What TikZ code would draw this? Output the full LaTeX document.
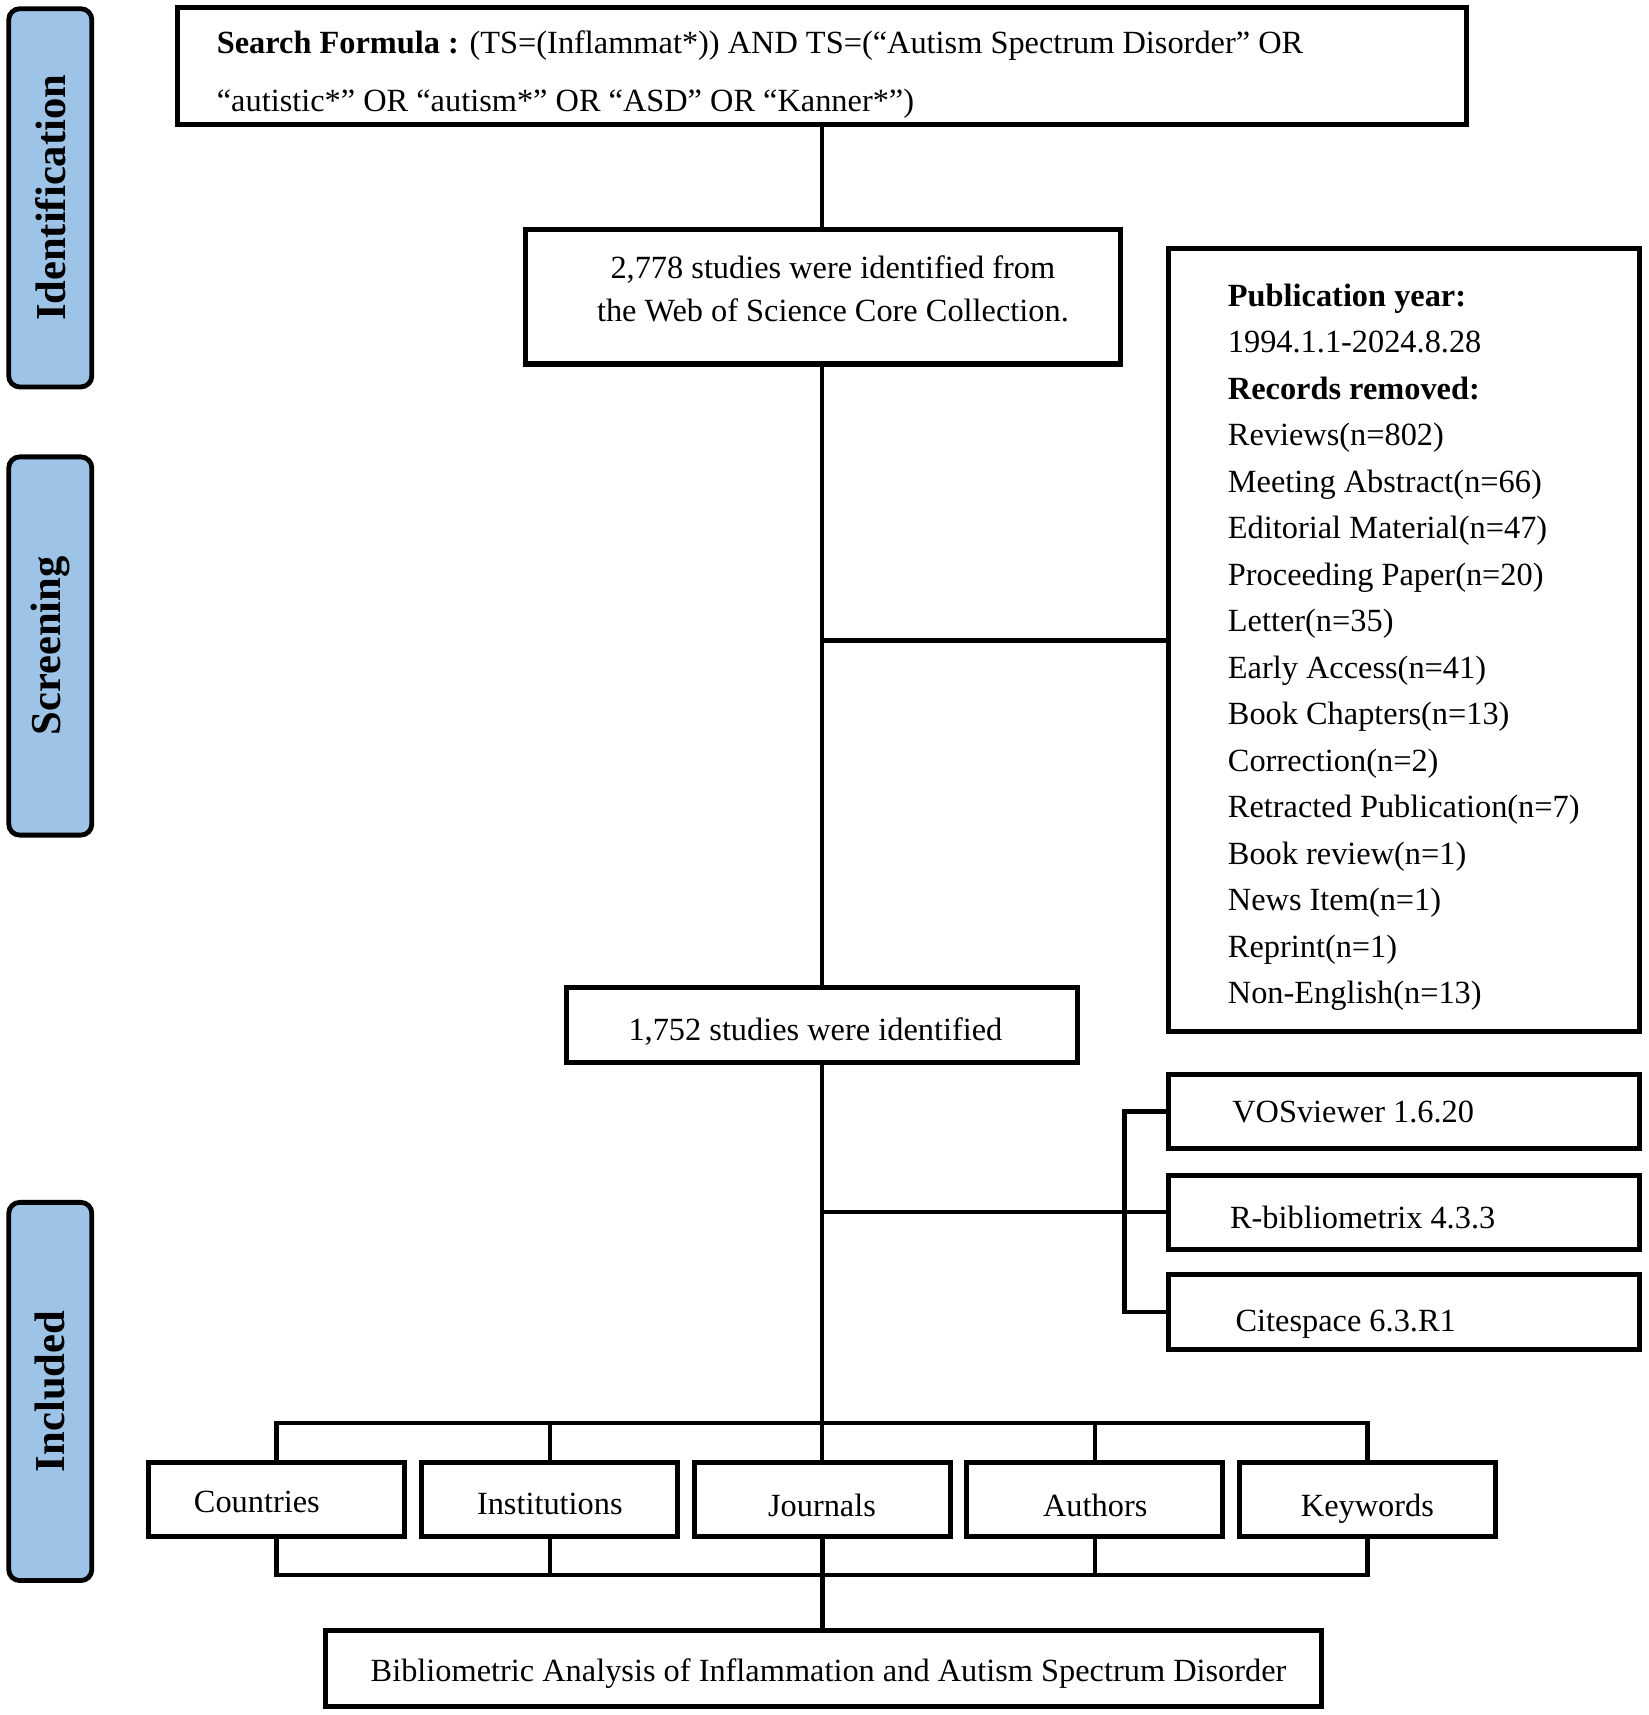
\documentclass[tikz,border=0pt]{standalone}
\usepackage{fontspec}
\setmainfont{Liberation Serif}
\definecolor{sideblue}{HTML}{9DC3E6}
\tikzset{
  box/.style={draw, line width=2.3pt, inner sep=0pt, fill=white},
  sidebox/.style={draw, line width=2.2pt, rounded corners=5pt, fill=sideblue, inner sep=0pt, minimum width=38pt, minimum height=173pt},
  sidetext/.style={rotate=90, inner sep=0pt, font=\fontsize{19.5}{22}\selectfont\bfseries},
  txt/.style={inner sep=0pt, anchor=base},
  ltxt/.style={inner sep=0pt, anchor=base west},
  conn/.style={line width=2pt}
}
\begin{document}
\begin{tikzpicture}[x=0.5pt,y=-0.5pt, font=\fontsize{14.8}{17}\selectfont]
\useasboundingbox (0,0) rectangle (1508,1569);
% side labels
\node[sidebox] (sid) at (46,181) {};
\node[sidetext] (sidt) at (46,181) {Identification};
\node[sidebox] (sscr) at (46,591) {};
\node[sidetext] (sscrt) at (46,591) {Screening};
\node[sidebox] (sinc) at (46,1273) {};
\node[sidetext] (sinct) at (46,1273) {Included};
% boxes
\node[box, minimum width=590pt, minimum height=53.5pt] (top) at (752,60.5) {};
\node[box, minimum width=272pt, minimum height=61.5pt] (b2) at (753,271.5) {};
\node[box, minimum width=215.5pt, minimum height=358.5pt] (rb) at (1284.5,585.5) {};
\node[box, minimum width=234pt, minimum height=34.5pt] (b3) at (752,937.5) {};
\node[box, minimum width=215.5pt, minimum height=34pt] (vos) at (1284.5,1017) {};
\node[box, minimum width=215.5pt, minimum height=34pt] (rbib) at (1284.5,1109) {};
\node[box, minimum width=215.5pt, minimum height=34.5pt] (cite) at (1284.5,1200.5) {};
\node[box, minimum width=117pt, minimum height=34pt] (co) at (253,1372) {};
\node[box, minimum width=117pt, minimum height=34pt] (in) at (503,1372) {};
\node[box, minimum width=117pt, minimum height=34pt] (jo) at (752.5,1372) {};
\node[box, minimum width=117pt, minimum height=34pt] (au) at (1001.5,1372) {};
\node[box, minimum width=117pt, minimum height=34pt] (ke) at (1251,1372) {};
\node[box, minimum width=455.5pt, minimum height=34.5pt] (fin) at (753.5,1526.5) {};
% texts
\node[ltxt] (t1) at (198,49) {\textbf{Search Formula :} (TS=(Inflammat*)) AND TS=(“Autism Spectrum Disorder” OR};
\node[ltxt] (t2) at (198,102) {“autistic*” OR “autism*” OR “ASD” OR “Kanner*”)};
\node[txt] (t3) at (762,255) {2,778 studies were identified from};
\node[txt] (t4) at (762,294) {the Web of Science Core Collection.};
\foreach \t [count=\i from 0] in {{\textbf{Publication year:}}, 1994.1.1-2024.8.28, {\textbf{Records removed:}}, Reviews(n=802), Meeting Abstract(n=66), Editorial Material(n=47), Proceeding Paper(n=20), Letter(n=35), Early Access(n=41), Book Chapters(n=13), Correction(n=2), Retracted Publication(n=7), Book review(n=1), News Item(n=1), Reprint(n=1), Non-English(n=13)}
  \node[ltxt] (r\i) at (1123,{280+42.55*\i}) {\t};
\node[txt] (t5) at (746,952) {1,752 studies were identified};
\node[ltxt] (t6) at (1127,1027) {VOSviewer 1.6.20};
\node[ltxt] (t7) at (1125,1124) {R-bibliometrix 4.3.3};
\node[ltxt] (t8) at (1130,1218) {Citespace 6.3.R1};
\node[txt] (t9) at (235,1384) {Countries};
\node[txt] (t10) at (503,1386) {Institutions};
\node[txt] (t11) at (752,1387) {Journals};
\node[txt] (t12) at (1002,1387) {Authors};
\node[txt] (t13) at (1251,1387) {Keywords};
\node[txt] (t14) at (758,1538) {Bibliometric Analysis of Inflammation and Autism Spectrum Disorder};
% connectors
\coordinate (j1) at (752,586);
\coordinate (j2) at (752,1109);
\coordinate (ya) at (0,1302);
\coordinate (yb) at (0,1441);
\draw[conn] (top.south) -- (top.south |- b2.north);
\draw[conn] (b2.south -| top.south) -- (b3.north -| top.south);
\draw[conn] (j1) -- (j1 -| rb.west);
\draw[conn] (b3.south -| top.south) -- (jo.north -| top.south);
\draw[conn] (j2) -- (rbib.west);
\draw[conn] (vos.west) -- ++(-38,0) |- (cite.west);
\draw[conn] (co.north) -- (co.north |- ya) -- (ke.north |- ya) -- (ke.north);
\draw[conn] (in.north) -- (in.north |- ya);
\draw[conn] (au.north) -- (au.north |- ya);
\draw[conn] (co.south) -- (co.south |- yb) -- (ke.south |- yb) -- (ke.south);
\draw[conn] (in.south) -- (in.south |- yb);
\draw[conn] (au.south) -- (au.south |- yb);
\draw[conn] (jo.south) -- (fin.north -| jo.south);
\end{tikzpicture}
\end{document}
